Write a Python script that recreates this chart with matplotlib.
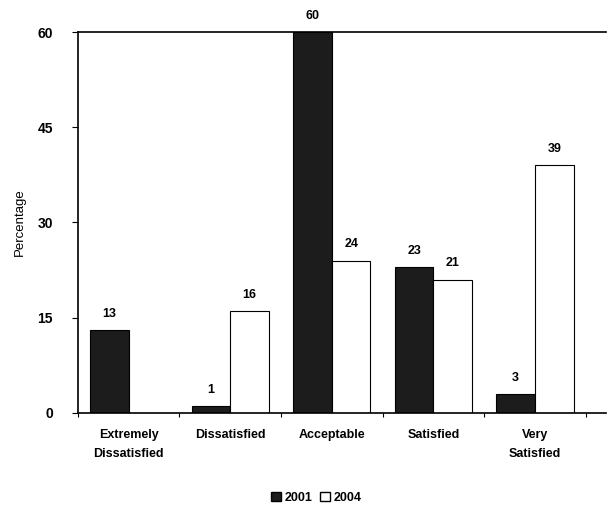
import matplotlib.pyplot as plt
import numpy as np
from matplotlib.patches import Patch

categories = ["Extremely\nDissatisfied", "Dissatisfied", "Acceptable", "Satisfied", "Very\nSatisfied"]
val_2001 = [13, 1, 60, 23, 3]
val_2004 = [0, 16, 24, 21, 39]
yticks = [0, 15, 30, 45, 60]

plt.rcParams['font.family'] = ['Liberation Sans', 'DejaVu Sans']

fig = plt.figure(figsize=(6.08, 5.09), dpi=100)
ax = fig.add_axes([0.128, 0.189, 0.869, 0.748])

x = np.arange(len(categories))
w = 0.38
b1 = ax.bar(x - w / 2, val_2001, w, color="#1c1c1c", edgecolor="black", linewidth=0.8)
b2 = ax.bar(x + w / 2, val_2004, w, color="white", edgecolor="black", linewidth=0.8)

for bars, vals in ((b1, val_2001), (b2, val_2004)):
    for bar, v in zip(bars, vals):
        if v == 0:
            continue
        ax.text(bar.get_x() + bar.get_width() / 2, v + 1.6, str(v),
                ha="center", va="bottom", fontsize=9, fontweight="bold")

ax.set_xlim(-0.45, 4.7)
ax.set_ylim(0, 60)
ax.set_yticks(yticks)
ax.set_yticklabels([str(t) for t in yticks], fontsize=10, fontweight="bold")
ax.set_xticks(np.arange(-0.5, 4.6, 1.0))
ax.set_xticklabels([])
ax.set_xticks(x, minor=True)
ax.set_xticklabels(categories, minor=True, fontsize=9, fontweight="bold", linespacing=1.7)
ax.tick_params(axis="x", which="minor", length=0, pad=12)
ax.tick_params(axis="x", which="major", length=3, direction="out")
ax.tick_params(axis="y", length=4, direction="out", pad=14)
ax.spines["right"].set_visible(False)
for s in ("left", "top", "bottom"):
    ax.spines[s].set_linewidth(1.2)
ax.set_ylabel("Percentage", fontsize=9.5, labelpad=8)

handles = [Patch(facecolor="#1c1c1c", edgecolor="black", label="2001"),
           Patch(facecolor="white", edgecolor="black", label="2004")]
fig.legend(handles=handles, loc="lower center", bbox_to_anchor=(0.52, -0.012), ncol=2,
           frameon=False, handlelength=0.8, handleheight=0.8,
           handletextpad=0.3, columnspacing=0.6, prop={"weight": "bold", "size": 9})

fig.savefig("out.png", dpi=100)
